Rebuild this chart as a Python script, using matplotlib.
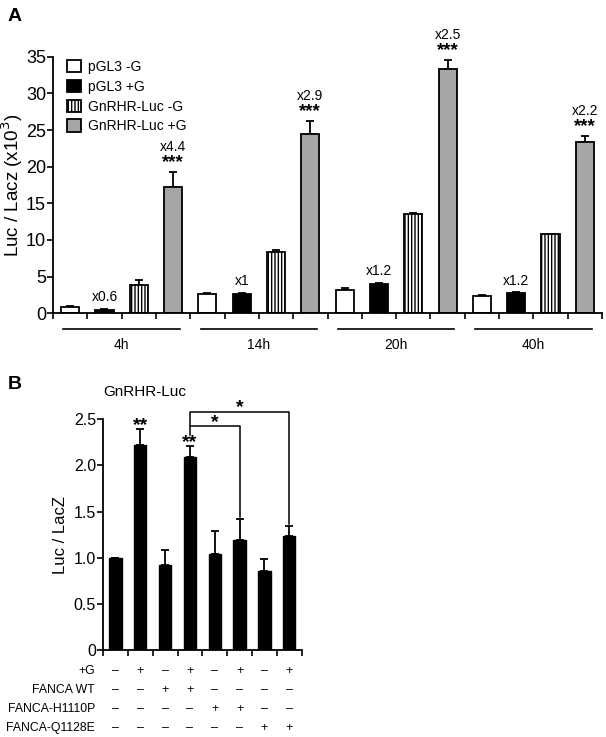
import numpy as np
import matplotlib.pyplot as plt

plt.rcParams['font.family'] = ['Liberation Sans', 'DejaVu Sans']
plt.rcParams['hatch.linewidth'] = 1.0

# panel A data
times = ['4h', '14h', '20h', '40h']
series = ['pGL3 -G', 'pGL3 +G', 'GnRHR-Luc -G', 'GnRHR-Luc +G']
vals = [[0.9, 2.7, 3.2, 2.4],
        [0.45, 2.7, 4.0, 2.8],
        [3.9, 8.3, 13.5, 10.8],
        [17.2, 24.4, 33.3, 23.3]]
errs = [[0.15, 0.1, 0.2, 0.15],
        [0.2, 0.1, 0.2, 0.1],
        [0.7, 0.3, 0.15, 0.05],
        [2.1, 1.8, 1.3, 0.9]]
fold_black = ['x0.6', 'x1', 'x1.2', 'x1.2']
fold_gray = ['x4.4', 'x2.9', 'x2.5', 'x2.2']

# panel B data
b_vals = [1.0, 2.22, 0.92, 2.09, 1.04, 1.19, 0.86, 1.24]
b_errs = [0.0, 0.17, 0.16, 0.12, 0.25, 0.23, 0.13, 0.10]
b_stars = ['', '**', '', '**', '', '', '', '']
row_names = ['+G', 'FANCA WT', 'FANCA-H1110P', 'FANCA-Q1128E']
rows = [['-', '+', '-', '+', '-', '+', '-', '+'],
        ['-', '-', '+', '+', '-', '-', '-', '-'],
        ['-', '-', '-', '-', '+', '+', '-', '-'],
        ['-', '-', '-', '-', '-', '-', '+', '+']]

fig = plt.figure(figsize=(6.06, 7.37), dpi=100)

# ---------- A ----------
ax = fig.add_axes([53/606, 1-313.3/737, 549/606, 256.6/737])
faces = ['white', 'black', 'white', '#a6a6a6']
hatches = [None, None, '|||||', None]
w = 0.53
for s in range(4):
    x = np.arange(4)*4 + s
    ax.bar(x, vals[s], w, color=faces[s], edgecolor='black', linewidth=1.3,
           hatch=hatches[s], label=series[s], zorder=2)
    ax.errorbar(x, vals[s], yerr=[np.zeros(4), errs[s]], fmt='none',
                ecolor='black', elinewidth=1.3, capsize=3, capthick=1.3, zorder=1)
for g in range(4):
    xb = g*4 + 1
    ax.text(xb, vals[1][g] + errs[1][g] + 0.6, fold_black[g], ha='center', va='bottom', fontsize=10)
    xg = g*4 + 3
    top = vals[3][g] + errs[3][g]
    ax.text(xg, top + 0.1, '***', ha='center', va='bottom', fontsize=13.5, fontweight='bold')
    ax.text(xg, top + 2.45, fold_gray[g], ha='center', va='bottom', fontsize=10)
    # group line and label
    ax.plot([g*4 - 0.2, g*4 + 3.2], [-2.1, -2.1], color='black', lw=1.2, clip_on=False)
    ax.text(g*4 + 1.5, -4.3, times[g], ha='center', va='center', fontsize=10)

ax.set_xlim(-0.5, 15.5)
ax.set_ylim(0, 35)
ax.set_yticks(np.arange(0, 36, 5))
ax.set_xticks(np.arange(-0.5, 16, 1))
ax.set_xticklabels([])
ax.tick_params(axis='x', direction='out', length=4, width=1.2)
ax.tick_params(axis='y', direction='out', length=4, width=1.2, labelsize=13, pad=1)
ax.spines['top'].set_visible(False)
ax.spines['right'].set_visible(False)
ax.spines['left'].set_linewidth(1.3)
ax.spines['bottom'].set_linewidth(1.3)
ax.set_ylabel('Luc / Lacz (x10$^3$)', fontsize=13.5, labelpad=1)
ax.legend(loc='upper left', bbox_to_anchor=(0.01, 1.02), frameon=False, fontsize=10,
          handlelength=1.0, handleheight=1.0, handletextpad=0.5, labelspacing=0.42,
          borderaxespad=0.2)
fig.text(0.013, 0.978, 'A', fontsize=14, fontweight='bold', va='center')

# ---------- B ----------
bx = fig.add_axes([103/606, 1-650/737, 198.7/606, 230.7/737])
xb = np.arange(8)
bx.bar(xb, b_vals, 0.5, color='black', edgecolor='black', zorder=2)
bx.errorbar(xb, b_vals, yerr=[np.zeros(8), b_errs], fmt='none', ecolor='black',
            elinewidth=1.3, capsize=3, capthick=1.3, zorder=1)
for i in range(8):
    if b_stars[i]:
        bx.text(xb[i], b_vals[i] + b_errs[i] - 0.05, b_stars[i], ha='center', va='bottom',
                fontsize=14, fontweight='bold')
# significance brackets
bx.plot([3, 3, 5, 5], [2.33, 2.43, 2.43, 1.44], color='black', lw=1.1, clip_on=False)
bx.plot([3, 3, 7, 7], [2.43, 2.58, 2.58, 1.36], color='black', lw=1.1, clip_on=False)
bx.text(4, 2.37, '*', ha='center', va='bottom', fontsize=14, fontweight='bold')
bx.text(5, 2.53, '*', ha='center', va='bottom', fontsize=14, fontweight='bold')

bx.set_xlim(-0.5, 7.5)
bx.set_ylim(0, 2.5)
bx.set_yticks([0, 0.5, 1.0, 1.5, 2.0, 2.5])
bx.set_yticklabels(['0', '0.5', '1.0', '1.5', '2.0', '2.5'])
bx.set_xticks(np.arange(-0.5, 8, 1))
bx.set_xticklabels([])
bx.tick_params(axis='x', direction='out', length=4, width=1.2)
bx.tick_params(axis='y', direction='out', length=4, width=1.2, labelsize=11.5, pad=1)
bx.spines['top'].set_visible(False)
bx.spines['right'].set_visible(False)
bx.spines['left'].set_linewidth(1.3)
bx.spines['bottom'].set_linewidth(1.3)
bx.set_ylabel('Luc / LacZ', fontsize=12, labelpad=4)
fig.text(103/606, 1-392/737, 'GnRHR-Luc', ha='left', va='center', fontsize=11)
fig.text(0.013, 1-385/737, 'B', fontsize=14, fontweight='bold', va='center')

# condition table under panel B
row_y = [671, 690, 708.7, 727.7]
for r in range(4):
    yfig = 1 - row_y[r]/737
    fig.text(95/606, yfig, row_names[r], ha='right', va='center', fontsize=8.8)
    for i in range(8):
        sign = '+' if rows[r][i] == '+' else '\u2013'
        xfig = bx.transData.transform((xb[i], 0))[0] / fig.bbox.width
        fig.text(xfig, yfig, sign, ha='center', va='center', fontsize=9)

fig.savefig('out.png', dpi=100)
